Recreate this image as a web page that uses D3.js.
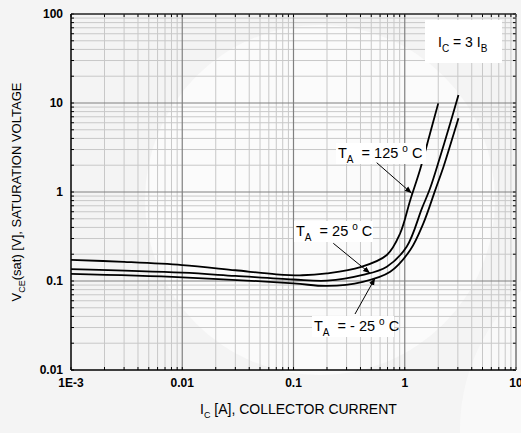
<!DOCTYPE html>
<html>
<head>
<meta charset="utf-8">
<script src="https://cdn.jsdelivr.net/npm/d3@7"></script>
<style>
  body { margin: 0; background: #f4f4f4; }
  svg { display: block; font-family: "Liberation Sans", Arial, sans-serif; }
</style>
</head>
<body>
<div id="chart"></div>
<script>
// collector current [A] vs saturation voltage [V]
const ic125 = [0.001, 0.003, 0.01, 0.03, 0.07, 0.12, 0.2, 0.4, 0.69, 0.91, 1.12, 1.37, 1.69, 2.0];
const vce125 = [0.173, 0.164, 0.151, 0.132, 0.119, 0.116, 0.122, 0.143, 0.196, 0.344, 0.81, 1.77, 4.57, 9.9];

const ic25 = [0.001, 0.01, 0.03, 0.1, 0.2, 0.42, 0.69, 1.04, 1.43, 1.69, 2.08, 2.56, 3.04];
const vce25 = [0.136, 0.124, 0.114, 0.104, 0.101, 0.117, 0.145, 0.243, 0.66, 1.1, 2.49, 5.9, 12.3];

const icm25 = [0.001, 0.01, 0.1, 0.2, 0.42, 0.74, 1.12, 1.47, 1.88, 2.23, 2.65, 3.04];
const vcem25 = [0.120, 0.110, 0.094, 0.088, 0.098, 0.127, 0.223, 0.445, 1.05, 1.92, 3.84, 6.73];

const xTicks = [0.001, 0.01, 0.1, 1, 10];
const xTickLabels = ["1E-3", "0.01", "0.1", "1", "10"];
const yTicks = [0.01, 0.1, 1, 10, 100];
const yTickLabels = ["0.01", "0.1", "1", "10", "100"];

const w = 521, h = 433;
const margin = {left: 71, right: 5, top: 14, bottom: 63};

const svg = d3.select("#chart").append("svg").attr("width", w).attr("height", h);

// faint watermark shapes behind the plot
svg.append("rect").attr("width", w).attr("height", h).attr("fill", "#f4f4f4");
svg.append("circle").attr("cx", 320).attr("cy", 200).attr("r", 175).attr("fill", "#fbfbfb");
svg.append("circle").attr("cx", 650).attr("cy", 430).attr("r", 190).attr("fill", "#f9f9f9");

const x = d3.scaleLog().domain([0.001, 10]).range([margin.left, w - margin.right]);
const y = d3.scaleLog().domain([0.01, 100]).range([h - margin.bottom, margin.top]);

const g = svg.append("g");

//minor + major grid values
const minorX = [], minorY = [];
[0.001, 0.01, 0.1, 1].forEach(d => { for (let k = 2; k <= 9; k++) minorX.push(d * k) });
[0.01, 0.1, 1, 10].forEach(d => { for (let k = 2; k <= 9; k++) minorY.push(d * k) });

g.selectAll(".vminor").data(minorX).join("line")
  .attr("x1", d => x(d)).attr("x2", d => x(d))
  .attr("y1", y(0.01)).attr("y2", y(100))
  .attr("stroke", "#c8c8c8").attr("stroke-width", 1);
g.selectAll(".hminor").data(minorY).join("line")
  .attr("y1", d => y(d)).attr("y2", d => y(d))
  .attr("x1", x(0.001)).attr("x2", x(10))
  .attr("stroke", "#c8c8c8").attr("stroke-width", 1);
g.selectAll(".vmajor").data([0.01, 0.1, 1]).join("line")
  .attr("x1", d => x(d)).attr("x2", d => x(d))
  .attr("y1", y(0.01)).attr("y2", y(100))
  .attr("stroke", "#808080").attr("stroke-width", 1.2);
g.selectAll(".hmajor").data([0.1, 1, 10]).join("line")
  .attr("y1", d => y(d)).attr("y2", d => y(d))
  .attr("x1", x(0.001)).attr("x2", x(10))
  .attr("stroke", "#808080").attr("stroke-width", 1.2);

// inward ticks on all four sides
const tl = 3;
g.selectAll(".tl").data(minorY.concat(yTicks)).join("line")
  .attr("x1", x(0.001)).attr("x2", x(0.001) + tl).attr("y1", d => y(d)).attr("y2", d => y(d))
  .attr("stroke", "#000");
g.selectAll(".tr").data(minorY.concat(yTicks)).join("line")
  .attr("x1", x(10)).attr("x2", x(10) - tl).attr("y1", d => y(d)).attr("y2", d => y(d))
  .attr("stroke", "#000");
g.selectAll(".tb").data(minorX.concat(xTicks)).join("line")
  .attr("y1", y(0.01)).attr("y2", y(0.01) - tl).attr("x1", d => x(d)).attr("x2", d => x(d))
  .attr("stroke", "#000");
g.selectAll(".tt").data(minorX.concat(xTicks)).join("line")
  .attr("y1", y(100)).attr("y2", y(100) + tl).attr("x1", d => x(d)).attr("x2", d => x(d))
  .attr("stroke", "#000");

// frame
g.append("line").attr("x1", x(0.001)).attr("x2", x(10)).attr("y1", y(100)).attr("y2", y(100)).attr("stroke", "#222").attr("stroke-width", 1.5);
g.append("line").attr("x1", x(0.001)).attr("x2", x(10)).attr("y1", y(0.01)).attr("y2", y(0.01)).attr("stroke", "#000").attr("stroke-width", 1.5);
g.append("line").attr("x1", x(0.001)).attr("x2", x(0.001)).attr("y1", y(100)).attr("y2", y(0.01)).attr("stroke", "#000").attr("stroke-width", 1.5);
g.append("line").attr("x1", x(10)).attr("x2", x(10)).attr("y1", y(100)).attr("y2", y(0.01)).attr("stroke", "#555").attr("stroke-width", 1.2);

// tick labels
g.selectAll(".xl").data(xTicks).join("text")
  .attr("x", d => x(d)).attr("y", y(0.01) + 17)
  .attr("text-anchor", "middle").attr("font-size", 12).attr("font-weight", "bold")
  .text((d, i) => xTickLabels[i]);
g.selectAll(".yl").data(yTicks).join("text")
  .attr("x", x(0.001) - 8).attr("y", d => y(d) + 4)
  .attr("text-anchor", "end").attr("font-size", 12).attr("font-weight", "bold")
  .text((d, i) => yTickLabels[i]);

// curves
const line = d3.line().x(d => x(d[0])).y(d => y(d[1])).curve(d3.curveCatmullRom.alpha(0.5));
const series = [
  d3.zip(ic125, vce125),
  d3.zip(ic25, vce25),
  d3.zip(icm25, vcem25)
];
g.selectAll(".curve").data(series).join("path")
  .attr("d", line).attr("fill", "none").attr("stroke", "#000").attr("stroke-width", 1.8);

// label helper: T_A = nn °C on white box
function tempLabel(px, py, num, boxW) {
  const lg = svg.append("g").attr("transform", `translate(${px},${py})`);
  lg.append("rect").attr("x", -2).attr("y", -15).attr("width", boxW).attr("height", 21).attr("fill", "#fff");
  const t = lg.append("text").attr("font-size", 14.5);
  t.append("tspan").text("T");
  t.append("tspan").attr("dy", 5).attr("font-size", 10).text("A");
  t.append("tspan").attr("dy", -5).text("\u00a0 = " + num + " ");
  t.append("tspan").attr("dy", -6).attr("font-size", 10).text("o");
  t.append("tspan").attr("dy", 6).text("\u00a0C");
}
tempLabel(338, 158, "125", 90);
tempLabel(296, 236, "25", 79);
tempLabel(314, 331, "- 25", 82);

// arrows
const defs = svg.append("defs");
defs.append("marker").attr("id", "ah").attr("viewBox", "0 0 10 10")
  .attr("refX", 10).attr("refY", 5).attr("markerWidth", 7).attr("markerHeight", 7)
  .attr("orient", "auto")
  .append("path").attr("d", "M0,1 L10,5 L0,9 Z").attr("fill", "#000");
const arrows = [
  [[376.7, 162.7], [411.7, 193.3]],
  [[333.3, 243.3], [370, 273.3]],
  [[355, 314], [375, 278.3]]
];
svg.selectAll(".arr").data(arrows).join("line")
  .attr("x1", d => d[0][0]).attr("y1", d => d[0][1])
  .attr("x2", d => d[1][0]).attr("y2", d => d[1][1])
  .attr("stroke", "#000").attr("stroke-width", 1).attr("marker-end", "url(#ah)");

// condition box
const cb = svg.append("g").attr("transform", "translate(425,20)");
cb.append("rect").attr("width", 77).attr("height", 43).attr("fill", "#fff");
const ct = cb.append("text").attr("x", 13).attr("y", 27).attr("font-size", 14);
ct.append("tspan").text("I");
ct.append("tspan").attr("dy", 5).attr("font-size", 10).text("C");
ct.append("tspan").attr("dy", -5).text(" = 3 I");
ct.append("tspan").attr("dy", 5).attr("font-size", 10).text("B");

// axis titles
const xt = svg.append("text").attr("x", 200).attr("y", 414).attr("font-size", 14);
xt.append("tspan").text("I");
xt.append("tspan").attr("dy", 4).attr("font-size", 9).text("C");
xt.append("tspan").attr("dy", -4).text(" [A], COLLECTOR CURRENT");

const yt = svg.append("text").attr("transform", "translate(21,192) rotate(-90)")
  .attr("text-anchor", "middle").attr("font-size", 13);
yt.append("tspan").text("V");
yt.append("tspan").attr("dy", 4).attr("font-size", 9).text("CE");
yt.append("tspan").attr("dy", -4).text("(sat) [V], SATURATION VOLTAGE");
</script>
</body>
</html>
